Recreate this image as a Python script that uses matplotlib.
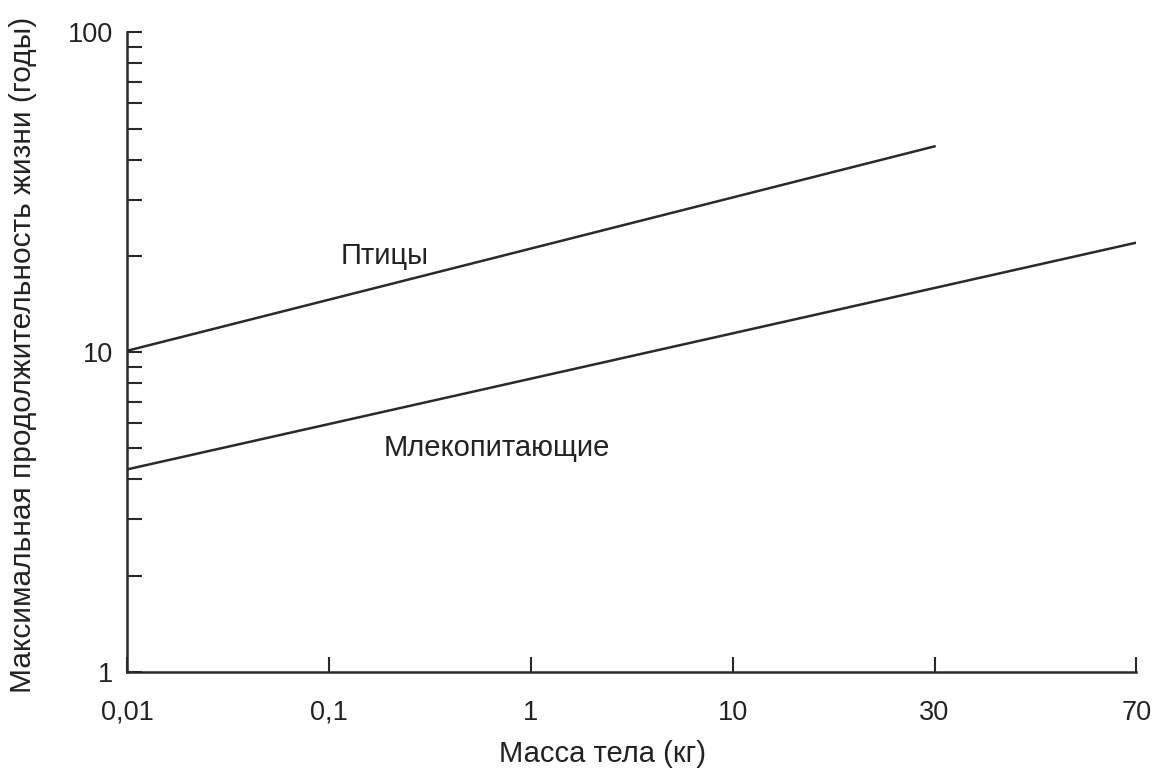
import matplotlib.pyplot as plt
from matplotlib.ticker import LogLocator, NullFormatter, FixedLocator, FixedFormatter

plt.rcParams['font.family'] = ['Liberation Sans', 'DejaVu Sans']

# x axis is drawn with evenly spaced labels (not a true scale)
mass_labels = ['0,01', '0,1', '1', '10', '30', '70']
mass_pos = [0, 1, 2, 3, 4, 5]

# birds: from 0,01 kg to 30 kg
birds_x = [0, 4]
birds_y = [10.1, 44.0]
# mammals: from 0,01 kg to 70 kg
mammals_x = [0, 5]
mammals_y = [4.3, 22.0]


def main():
    fig = plt.figure(figsize=(11.56, 7.81), dpi=100)
    ax = fig.add_axes([0.110, 0.1396, 0.873, 0.819])
    ink = '#2a2a2a'
    txt = '#222222'

    ax.plot(birds_x, birds_y, color=ink, lw=1.8)
    ax.plot(mammals_x, mammals_y, color=ink, lw=1.8)

    ax.set_yscale('log')
    ax.set_ylim(1, 100)
    ax.set_xlim(0, 5)

    ax.yaxis.set_major_locator(FixedLocator([1, 10, 100]))
    ax.yaxis.set_major_formatter(FixedFormatter(['1', '10', '100']))
    ax.yaxis.set_minor_locator(LogLocator(base=10, subs=range(2, 10)))
    ax.yaxis.set_minor_formatter(NullFormatter())

    ax.set_xticks(mass_pos)
    ax.set_xticklabels(mass_labels)

    ax.tick_params(axis='y', which='both', direction='in', length=11, width=1.5,
                   color=ink, labelsize=19.5, pad=10, labelcolor=txt)
    ax.tick_params(axis='x', which='major', direction='in', length=11, width=1.5,
                   color=ink, labelsize=19.5, pad=20, labelcolor=txt)

    for s in ['top', 'right']:
        ax.spines[s].set_visible(False)
    for s in ['left', 'bottom']:
        ax.spines[s].set_linewidth(1.8)
        ax.spines[s].set_color(ink)

    ax.text(1.06, 20, 'Птицы', fontsize=21, va='center', ha='left', color=txt)
    ax.text(1.27, 5.0, 'Млекопитающие', fontsize=21, va='center', ha='left', color=txt)

    ax.set_xlabel('Масса тела (кг)', fontsize=21, color=txt)
    ax.xaxis.set_label_coords(0.471, -0.106)
    ax.set_ylabel('Максимальная продолжительность жизни (годы)', fontsize=21.5,
                  color=txt)
    ax.yaxis.set_label_coords(-0.089, 0.495)

    fig.savefig('out.png', dpi=100)


if __name__ == '__main__':
    main()
